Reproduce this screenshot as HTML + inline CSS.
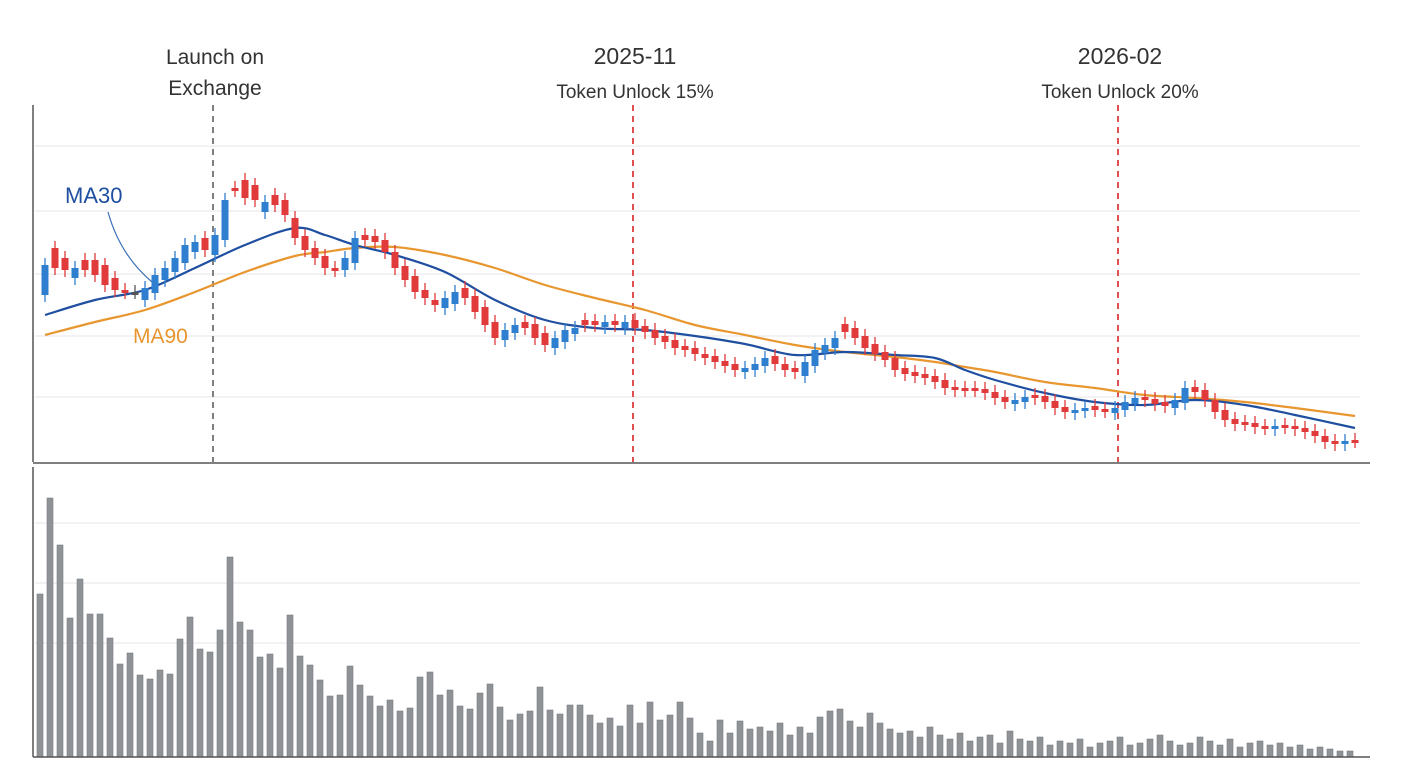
<!DOCTYPE html>
<html><head><meta charset="utf-8"><style>
html,body{margin:0;padding:0;background:#fff;}
svg{display:block;font-family:"Liberation Sans",sans-serif;}
</style></head><body>
<svg id="chart" width="1420" height="773" viewBox="0 0 1420 773"></svg>
<script>
// price closes (arbitrary units)
const closes=[1.97,1.94,1.92,1.94,1.92,1.87,1.77,1.72,1.70,1.70,1.74,1.87,1.94,2.04,2.17,2.20,2.12,2.27,2.62,2.72,2.64,2.62,2.60,2.57,2.47,2.24,2.12,2.04,1.94,1.92,2.04,2.24,2.22,2.20,2.10,1.94,1.82,1.70,1.64,1.57,1.64,1.70,1.64,1.50,1.37,1.24,1.32,1.37,1.34,1.24,1.17,1.24,1.32,1.34,1.37,1.37,1.40,1.37,1.40,1.34,1.30,1.24,1.20,1.14,1.12,1.08,1.04,1.00,0.96,0.92,0.94,0.98,1.04,0.98,0.92,0.90,1.00,1.12,1.17,1.24,1.30,1.24,1.14,1.08,1.02,0.92,0.88,0.86,0.84,0.80,0.74,0.72,0.72,0.72,0.69,0.64,0.60,0.62,0.65,0.64,0.60,0.54,0.50,0.52,0.54,0.52,0.51,0.54,0.60,0.64,0.62,0.58,0.56,0.62,0.74,0.70,0.62,0.50,0.42,0.38,0.38,0.35,0.34,0.36,0.35,0.33,0.30,0.26,0.20,0.18,0.21,0.21];
// body size: open minus close (positive = falling/red, negative = rising/blue)
const bodies=[-0.3,0.2,0.12,-0.1,0.1,0.15,0.2,0.12,0.02,0.0,-0.12,-0.18,-0.12,-0.14,-0.18,-0.1,0.12,-0.2,-0.4,0.02,0.18,0.15,-0.1,0.1,0.15,0.2,0.14,0.1,0.12,0.02,-0.12,-0.25,0.05,0.06,0.12,0.16,0.14,0.16,0.08,0.05,-0.1,-0.12,0.1,0.16,0.18,0.16,-0.1,-0.08,0.06,0.14,0.12,-0.1,-0.12,-0.06,0.05,0.04,-0.05,0.04,-0.06,0.08,0.06,0.08,0.06,0.08,0.04,0.06,0.04,0.06,0.05,0.06,-0.04,-0.06,-0.08,0.08,0.06,0.04,-0.14,-0.16,-0.08,-0.1,0.08,0.1,0.12,0.1,0.08,0.12,0.06,0.04,0.04,0.06,0.08,0.03,0.02,0.02,0.04,0.06,0.05,-0.04,-0.05,0.03,0.06,0.07,0.05,-0.03,-0.03,0.04,0.02,-0.05,-0.08,-0.06,0.03,0.05,0.04,-0.08,-0.15,0.05,0.1,0.12,0.1,0.05,0.02,0.04,0.02,-0.03,0.02,0.03,0.04,0.05,0.06,0.03,-0.03,0.01];
const maIdx=[0,5,10,15,20,25,28,31,35,40,45,50,55,60,65,70,75,80,85,89,92,95,100,105,110,115,120,125,131];
const ma30=[1.47,1.62,1.72,1.94,2.17,2.34,2.27,2.17,2.07,1.90,1.62,1.42,1.34,1.32,1.26,1.18,1.07,1.10,1.07,1.04,0.92,0.82,0.69,0.60,0.57,0.62,0.57,0.47,0.34];
const ma90=[1.27,1.40,1.52,1.70,1.90,2.06,2.10,2.14,2.15,2.07,1.94,1.77,1.64,1.52,1.37,1.27,1.17,1.10,1.05,1.00,0.95,0.90,0.80,0.74,0.67,0.64,0.60,0.54,0.46];
const volumes=[163,259,212,139,178,143,143,119,93,104,82,78,87,83,118,140,108,105,127,200,135,127,100,103,89,142,101,92,77,61,62,91,72,61,51,57,46,49,80,85,62,67,51,48,64,73,50,37,43,46,70,47,43,52,52,42,34,39,31,52,34,55,37,42,55,39,24,16,37,24,36,28,30,26,34,22,30,24,40,46,48,36,30,44,34,28,24,26,20,30,22,18,24,16,20,22,14,26,18,16,20,12,16,14,18,10,14,16,20,12,14,18,22,16,12,14,20,16,12,18,10,14,16,12,14,10,12,8,10,8,6,6];
const events=[{i:17,label1:"Launch on",label2:"Exchange",color:"#808080"},{i:59,label1:"2025-11",label2:"Token Unlock 15%",color:"#e05050"},{i:107.5,label1:"2026-02",label2:"Token Unlock 20%",color:"#e05050"}];

const NS="http://www.w3.org/2000/svg";
const svg=document.getElementById('chart');
function el(t,a,p){const e=document.createElementNS(NS,t);for(const k in a)e.setAttribute(k,a[k]);(p||svg).appendChild(e);return e;}
const x=i=>45+10*i;
const y=v=>462-v*100;
const vy=v=>757-v;

[146,211,274,336,397].forEach(g=>{const l=el('line',{x1:35,x2:1360,y1:g,y2:g,stroke:'#e4e6e8','stroke-width':1});

});
[523,583,643].forEach(g=>{const l=el('line',{x1:35,x2:1360,y1:g,y2:g,stroke:'#e4e6e8','stroke-width':1});

});

volumes.forEach((v,i)=>{const r=el('rect',{x:x(i)-8,y:vy(v),width:6,height:v,fill:'#8f9396',stroke:'#7a7e82','stroke-width':0.6});

});

events.forEach(ev=>{const l=el('line',{x1:x(ev.i)-2,x2:x(ev.i)-2,y1:105,y2:462,stroke:ev.color,'stroke-width':2,'stroke-dasharray':'6,5'});


const big=ev.i>20;
const t1=el('text',{x:x(ev.i),y:64,'text-anchor':'middle','font-size':big?23:21,fill:'#333'});t1.textContent=ev.label1;


const t2=el('text',{x:x(ev.i),y:big?98:95,'text-anchor':'middle','font-size':big?19:21,fill:'#333'});t2.textContent=ev.label2;

});

function smooth(idx,vals){let pts=idx.map((k,j)=>[x(k),y(vals[j])]);let d='M'+pts[0];for(let j=0;j<pts.length-1;j++){const p0=pts[j-1]||pts[j],p1=pts[j],p2=pts[j+1],p3=pts[j+2]||p2;d+=` C${p1[0]+(p2[0]-p0[0])/6},${p1[1]+(p2[1]-p0[1])/6} ${p2[0]-(p3[0]-p1[0])/6},${p2[1]-(p3[1]-p1[1])/6} ${p2[0]},${p2[1]}`;}return d;}
const m90=el('path',{d:smooth(maIdx,ma90),fill:'none',stroke:'#e8962f','stroke-width':2.2});


const m30=el('path',{d:smooth(maIdx,ma30),fill:'none',stroke:'#1f4fa0','stroke-width':2.2});



closes.forEach((c,i)=>{const o=c+bodies[i];const up=c>o+0.005,dn=c<o-0.005;const col=up?'#2f7fd0':dn?'#e03a3a':'#555';
const g=el('g',{});


el('line',{x1:x(i),x2:x(i),y1:y(Math.max(o,c)+0.07),y2:y(Math.min(o,c)-0.07),stroke:col,'stroke-width':1.3},g);
const top=y(Math.max(o,c)),h=Math.max(3,Math.abs(y(o)-y(c)));
el('rect',{x:x(i)-3.5,y:top,width:7,height:h,fill:col},g);});

[['line',{x1:33,x2:33,y1:105,y2:462,stroke:'#555','stroke-width':1.5},'price-y-axis'],['line',{x1:33,x2:1370,y1:463,y2:463,stroke:'#555','stroke-width':1.5},'price-x-axis'],['line',{x1:33,x2:33,y1:467,y2:757,stroke:'#555','stroke-width':1.5},'volume-y-axis'],['line',{x1:33,x2:1370,y1:757,y2:757,stroke:'#555','stroke-width':1.5},'volume-x-axis']].forEach(a=>{const e=el(a[0],a[1]);

});

const l30=el('text',{x:65,y:203,'font-size':22,fill:'#1f4fa0'});l30.textContent='MA30';


const p30=el('path',{d:'M108,212 Q120,255 152,282',fill:'none',stroke:'#3a6fb8','stroke-width':1.2});


const l90=el('text',{x:133,y:343,'font-size':21,fill:'#e8962f'});l90.textContent='MA90';


</script>
</body></html>
